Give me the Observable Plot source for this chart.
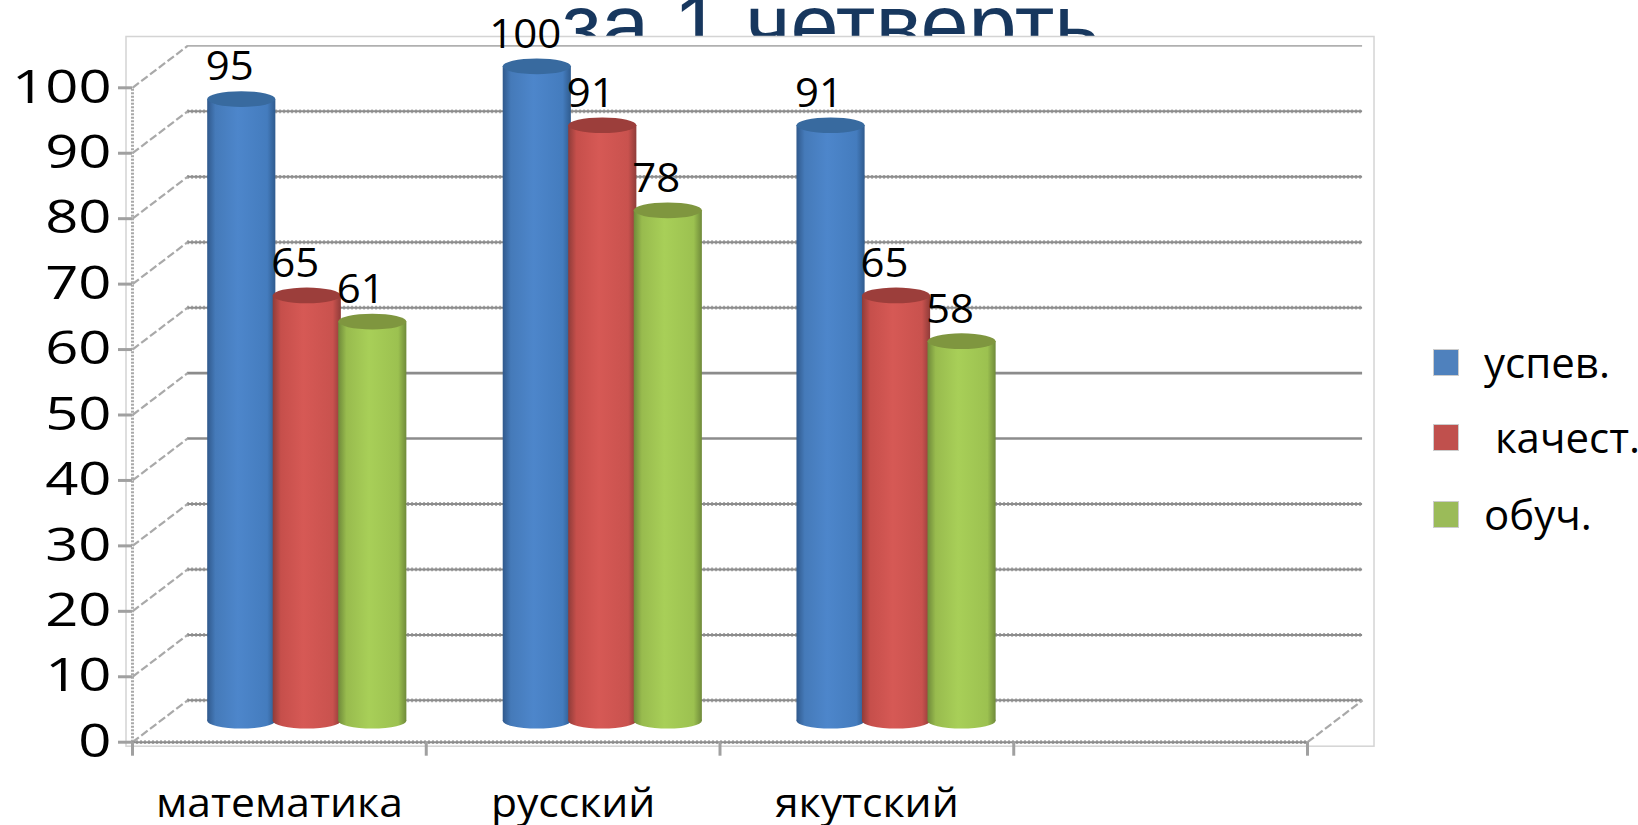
<!DOCTYPE html>
<html><head><meta charset="utf-8">
<script src="https://cdn.jsdelivr.net/npm/d3@7"></script>
<script src="https://cdn.jsdelivr.net/npm/@observablehq/plot@0.6"></script>
<style>
html,body{margin:0;padding:0;background:#fff;overflow:hidden}
#wrap{position:relative;width:1638px;height:825px}
#title{position:absolute;left:0;width:1661px;top:-23px;text-align:center;font:86.5px/96px "Liberation Sans",sans-serif;color:#17375e;white-space:nowrap}
#chart{position:absolute;left:0;top:0}
.lg{position:absolute;font:42px/50px "Open Sans",sans-serif;color:#000;white-space:pre}
.sw{position:absolute;left:1433px;width:26px;height:27px;box-sizing:border-box;border:1px solid #ccc}
</style></head><body>
<div id="wrap"><div id="title">за 1 четверть</div><div id="chart"></div></div>
<script>
const categories = ["математика", "русский", "якутский"];
const seriesNames = ["успев.", " качест.", "обуч."];
const uspev = [95, 100, 91];
const kachest = [65, 91, 65];
const obuch = [61, 78, 58];
const seriesValues = [uspev, kachest, obuch];
const yTicks = [0,10,20,30,40,50,60,70,80,90,100];
const xTicks = [0,1,2,3,4];
const toothedWall = [0,10,20,30,60,70,80,90];
const smoothWall = [40,50];
const legendColors = ["#4f81bd","#c0504d","#9bbb59"];
const legendTops = [349,424,501];
const legendText = [[1484,337],[1484,412],[1484,489]];

// depth of the fake-3D box, in data units
const depthX = 0.1875, depthY = 6.4;
const barW = 0.232, pitch = 0.223, capR = 1.2;
const groupC = [0.595, 0.601, 0.601];
const shift = depthY/2;

const rows = seriesValues.map((vals,s)=>vals.map((v,i)=>({
  cat: categories[i], i, s, v,
  xc: i + groupC[i] + (s-1)*pitch
})));
const bodyFill = ["url(#gb)","url(#gr)","url(#gg)"];
const capFill = ["#386a9f","#9c3e3b","#7f963f"];
const grid = "#8c8c8c", tooth = "#ababab", side = "#a9a9a9";

const defs = () => {
  const d = d3.create("svg:defs");
  const stops = {gb:["#30598c","#457ab9","#4d86cb","#447cbe","#2f5b8e"],
                 gr:["#8f3c39","#c64f4b","#d65955","#c9524e","#8f3c39"],
                 gg:["#6f8a3a","#98bb4e","#a8cf58","#9cc150","#6f8a3a"]};
  for (const k in stops) {
    const g = d.append("linearGradient").attr("id",k);
    stops[k].forEach((c,j)=>g.append("stop").attr("offset",[0,.12,.45,.88,1][j]).attr("stop-color",c));
  }
  return d.node();
};

const barMarks = rows.flatMap(r=>{
  const s = r[0].s;
  const rect = (y1,y2,fill,round)=>Plot.rectY(r,{
    x1:d=>d.xc-barW/2, x2:d=>d.xc+barW/2, y1, y2, fill,
    ...(round?{rx:34,ry:8}:{})
  });
  return [
    rect(d=>shift-capR, d=>shift+capR, bodyFill[s], true),
    rect(d=>shift, d=>shift+d.v, bodyFill[s], false),
    rect(d=>shift+d.v-capR, d=>shift+d.v+capR, capFill[s], true)
  ];
});
const labels = rows.flat();

const chart = Plot.plot({
  width:1638, height:825,
  marginLeft:125.5, marginRight:264.5, marginTop:36, marginBottom:79.3,
  style:{background:"transparent",fontFamily:"'Open Sans',sans-serif",color:"#000"},
  x:{domain:[0,4],range:[132,1307]},
  y:{domain:[0,100],range:[741.7,87.3]},
  marks:[
    defs,
    Plot.frame({fill:"white",stroke:"#d4d4d4",strokeWidth:1.5}),
    Plot.ruleY(toothedWall,{x1:depthX,x2:4+depthX,y:t=>t+depthY,stroke:tooth,strokeWidth:3.8,strokeDasharray:"2 2"}),
    Plot.ruleY(toothedWall,{x1:depthX,x2:4+depthX,y:t=>t+depthY,stroke:grid,strokeWidth:2}),
    Plot.ruleY(smoothWall,{x1:depthX,x2:4+depthX,y:t=>t+depthY,stroke:grid,strokeWidth:2.6}),
    Plot.ruleY([100],{x1:depthX,x2:4+depthX,y:t=>t+depthY,stroke:"#b0b0b0",strokeWidth:1.6}),
    Plot.link(yTicks,{x1:0,y1:t=>t,x2:depthX,y2:t=>t+depthY,stroke:side,strokeWidth:2.2,strokeDasharray:"8 3"}),
    Plot.link([0],{x1:4,y1:0,x2:4+depthX,y2:depthY,stroke:side,strokeWidth:2.2,strokeDasharray:"8 3"}),
    Plot.ruleX([0],{y1:0,y2:100,stroke:side,strokeWidth:3,strokeDasharray:"2 1.5"}),
    Plot.ruleY([0],{x1:0,x2:4,stroke:tooth,strokeWidth:3.8,strokeDasharray:"2 2"}),
    Plot.ruleY([0],{x1:0,x2:4,stroke:grid,strokeWidth:2}),
    Plot.axisY({ticks:yTicks,tickSize:14,tickPadding:7,dx:6.5,fontSize:46,stroke:"#a0a0a0",strokeWidth:3,label:null,fill:"#000"}),
    Plot.axisX({ticks:xTicks,tickSize:14,tickFormat:()=>"",dy:-4,stroke:"#a0a0a0",strokeWidth:3,label:null}),
    ...barMarks,
    Plot.text(labels,{x:d=>d.xc,y:d=>shift+d.v,dx:-12,dy:-32,text:d=>String(d.v),fontSize:40,fill:"#000",className:"value-label"}),
    Plot.text(categories,{x:(d,i)=>i+0.5,y:0,dy:62,text:d=>d,fontSize:41,fill:"#000",className:"cat-label"})
  ]
});
document.getElementById("chart").appendChild(chart);

// the reference's lettering is stretched sideways
const stretch = (sel,f)=>chart.querySelectorAll(sel).forEach(t=>{
  t.setAttribute("textLength",(t.getComputedTextLength()*f).toFixed(1));
  t.setAttribute("lengthAdjust","spacingAndGlyphs");
});
stretch('g[aria-label="y-axis tick label"] text',1.26);
stretch('.cat-label text',1.04);
stretch('.value-label text',1.05);

const wrap = document.getElementById("wrap");
seriesNames.forEach((n,i)=>{
  const sw = document.createElement("div");
  sw.className="sw"; sw.style.top=legendTops[i]+"px"; sw.style.background=legendColors[i];
  wrap.appendChild(sw);
  const t = document.createElement("div");
  t.className="lg"; t.textContent=n;
  t.style.left=legendText[i][0]+"px"; t.style.top=legendText[i][1]+"px";
  wrap.appendChild(t);
});
</script>
</body></html>
